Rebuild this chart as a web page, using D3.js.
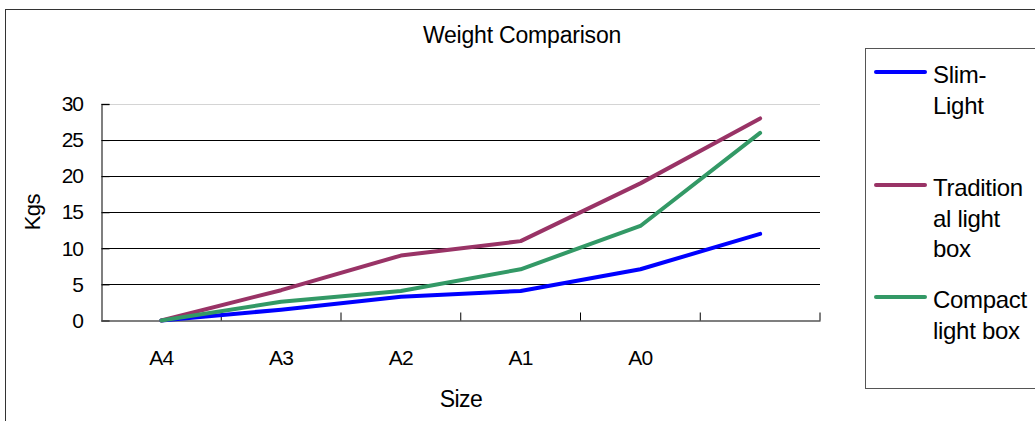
<!DOCTYPE html>
<html>
<head>
<meta charset="utf-8">
<script src="https://cdn.jsdelivr.net/npm/d3@7"></script>
<style>
  body { margin: 0; background: #fff; }
  svg { font-family: "Liberation Sans", Arial, sans-serif; }
</style>
</head>
<body>
<div id="chart"></div>
<script>
let categories = ["A4", "A3", "A2", "A1", "A0", ""];
let slimLight = [0, 1.5, 3.3, 4.1, 7.1, 12];
let traditional = [0, 4.2, 9, 11, 19, 28];
let compact = [0, 2.6, 4.1, 7.1, 13.1, 26];
let yTicks = [0, 5, 10, 15, 20, 25, 30];
let seriesNames = [["Slim-", "Light"], ["Tradition", "al light", "box"], ["Compact", "light box"]];

let width = 1035;
let height = 421;
let margin = ({top: 104, bottom: 100.5, left: 101.5, right: 215});

let series = [
    {name: seriesNames[0], values: slimLight, color: "#0000ff"},
    {name: seriesNames[1], values: traditional, color: "#993366"},
    {name: seriesNames[2], values: compact, color: "#339966"}
];

let svg = d3.select("#chart")
    .append("svg")
    .attr("width", width)
    .attr("height", height);

// chart frame
svg.append("rect")
    .attr("x", 5.5).attr("y", 9.5)
    .attr("width", width + 20).attr("height", height + 20)
    .attr("fill", "none")
    .attr("stroke", "#333");

let xScale = d3.scaleBand()
    .domain(categories)
    .range([margin.left, width - margin.right]);
let xMid = c => xScale(c) + xScale.bandwidth() / 2;

let yScale = d3.scaleLinear()
    .domain([0, 30])
    .range([height - margin.bottom, margin.top]);

// gridlines
svg.append("g")
    .selectAll("line")
    .data(yTicks.filter(d => d > 0))
    .join("line")
    .attr("x1", margin.left)
    .attr("x2", width - margin.right)
    .attr("y1", d => Math.round(yScale(d)) + 0.5)
    .attr("y2", d => Math.round(yScale(d)) + 0.5)
    .attr("stroke", d => d == 30 ? "#d4d4d4" : "#000")
    .attr("stroke-width", 1);

let yAxis = g =>
    g
        .attr("transform", `translate(${margin.left},0)`)
        .call(d3.axisLeft(yScale).tickValues(yTicks).tickSize(-8).tickPadding(18.5))
        .call(g => g.select(".domain").attr("stroke", "#555").attr("stroke-width", 1.5))
        .call(g => g.selectAll(".tick line").attr("stroke", "#000"))
        .call(g => g.selectAll(".tick text")
            .attr("font-size", 21)
            .attr("letter-spacing", -1)
            .attr("fill", "#000"));

let xAxis = g =>
    g
        .attr("transform", `translate(0,${height - margin.bottom})`)
        .call(d3.axisBottom(xScale).tickSize(0).tickPadding(29.5))
        .call(g => g.select(".domain").attr("stroke", "#555").attr("stroke-width", 1.5))
        .call(g => g.selectAll(".tick text")
            .attr("font-size", 21)
            .attr("letter-spacing", -0.8)
            .attr("fill", "#000"))
        .call(g => g.append("g")
            .selectAll("line")
            .data(categories)
            .join("line")
            .attr("x1", d => xScale(d) + xScale.bandwidth())
            .attr("x2", d => xScale(d) + xScale.bandwidth())
            .attr("y1", 0)
            .attr("y2", -8)
            .attr("stroke", "#000"));

svg.append("g").call(yAxis);
svg.append("g").call(xAxis);

// titles
svg.append("text")
    .attr("x", 522)
    .attr("y", 43)
    .attr("text-anchor", "middle")
    .attr("font-size", 23)
    .attr("letter-spacing", -0.2)
    .text("Weight Comparison");

svg.append("text")
    .attr("x", 461)
    .attr("y", 407)
    .attr("text-anchor", "middle")
    .attr("font-size", 23)
    .attr("letter-spacing", -0.5)
    .text("Size");

svg.append("text")
    .attr("transform", `translate(40,${(margin.top + height - margin.bottom) / 2}) rotate(-90)`)
    .attr("text-anchor", "middle")
    .attr("font-size", 22)
    .attr("letter-spacing", -0.6)
    .text("Kgs");

let line = d3.line()
    .x((d, i) => xMid(categories[i]))
    .y(d => yScale(d));

svg.append("g")
    .selectAll("path")
    .data(series)
    .join("path")
    .attr("fill", "none")
    .attr("stroke", d => d.color)
    .attr("stroke-width", 4)
    .attr("stroke-linejoin", "round")
    .attr("stroke-linecap", "round")
    .attr("d", d => line(d.values));

// legend
let legend = svg.append("g");
legend.append("rect")
    .attr("x", 865.5).attr("y", 48.5)
    .attr("width", 200).attr("height", 340)
    .attr("fill", "#fff")
    .attr("stroke", "#555");

let legendY = [72, 185, 297];
let item = legend.selectAll("g.item")
    .data(series)
    .join("g")
    .attr("class", "item")
    .attr("transform", (d, i) => `translate(876,${legendY[i]})`);

item.append("line")
    .attr("x1", 0).attr("x2", 49)
    .attr("stroke", d => d.color)
    .attr("stroke-width", 4)
    .attr("stroke-linecap", "round");

item.append("text")
    .attr("font-size", 24)
    .attr("letter-spacing", -0.3)
    .selectAll("tspan")
    .data(d => d.name)
    .join("tspan")
    .attr("x", 57)
    .attr("y", (d, i) => 11 + i * 30.5)
    .text(d => d);
</script>
</body>
</html>
